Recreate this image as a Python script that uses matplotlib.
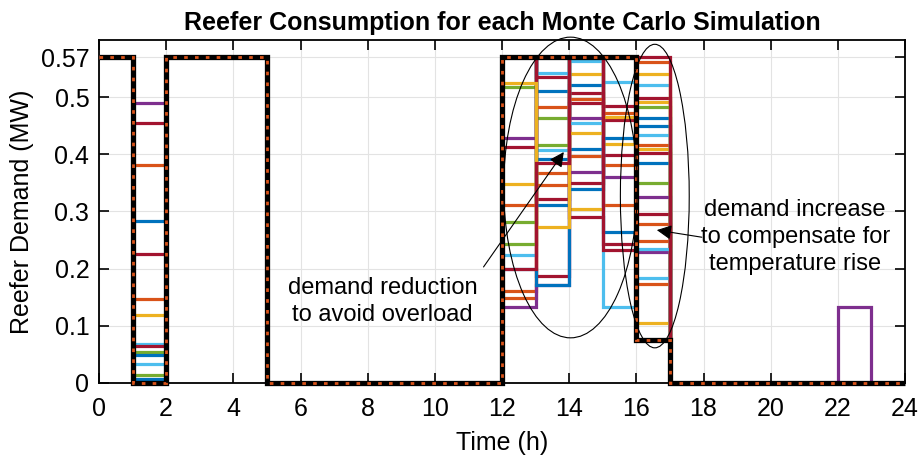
import numpy as np
import matplotlib
matplotlib.use("Agg")
import matplotlib.pyplot as plt
from matplotlib.patches import Ellipse

plt.rcParams['font.family'] = ['Liberation Sans', 'DejaVu Sans']

# baseline demand per hour (MW), hours 0..23
baseline = [0.57, 0, 0.57, 0.57, 0.57, 0, 0, 0, 0, 0, 0, 0,
            0.57, 0.57, 0.57, 0.57, 0.076, 0, 0, 0, 0, 0, 0, 0]

# Monte Carlo runs: value of each run in the hours that differ from baseline
demand_h01 = [0.283, 0.382, 0.119, 0.49, 0.055, 0.069, 0.455,
              0.049, 0.147, 0, 0, 0.014, 0.033, 0.225,
              0.007, 0, 0, 0, 0, 0, 0.065,
              0, 0, 0, 0, 0, 0, 0,
              0, 0, 0, 0, 0, 0, 0]
demand_h12 = [0.57, 0.161, 0.348, 0.428, 0.517, 0.224, 0.57,
              0.57, 0.149, 0.57, 0.57, 0.281, 0.57, 0.57,
              0.57, 0.57, 0.57, 0.57, 0.243, 0.57, 0.412,
              0.57, 0.57, 0.57, 0.133, 0.57, 0.57, 0.57,
              0.2, 0.312, 0.524, 0.57, 0.57, 0.57, 0.199]
demand_h13 = [0.51, 0.367, 0.57, 0.57, 0.464, 0.407, 0.322,
              0.391, 0.347, 0.57, 0.57, 0.417, 0.542, 0.188,
              0.311, 0.57, 0.57, 0.57, 0.57, 0.57, 0.57,
              0.57, 0.57, 0.57, 0.172, 0.57, 0.57, 0.536,
              0.172, 0.483, 0.273, 0.57, 0.57, 0.57, 0.384]
demand_h14 = [0.521, 0.397, 0.541, 0.57, 0.57, 0.563, 0.508,
              0.41, 0.57, 0.305, 0.57, 0.57, 0.57, 0.489,
              0.57, 0.57, 0.57, 0.57, 0.57, 0.57, 0.349,
              0.57, 0.57, 0.57, 0.369, 0.57, 0.57, 0.29,
              0.34, 0.497, 0.438, 0.464, 0.57, 0.455, 0.57]
demand_h15 = [0.264, 0.382, 0.418, 0.57, 0.57, 0.527, 0.484,
              0.57, 0.311, 0.57, 0.57, 0.57, 0.57, 0.46,
              0.57, 0.57, 0.57, 0.57, 0.57, 0.57, 0.399,
              0.57, 0.57, 0.57, 0.57, 0.57, 0.57, 0.243,
              0.428, 0.473, 0.466, 0.361, 0.57, 0.133, 0.233]
demand_h16 = [0.45, 0.417, 0.491, 0.076, 0.349, 0.521, 0.499,
              0.384, 0.278, 0.41, 0.076, 0.076, 0.434, 0.403,
              0.076, 0.248, 0.105, 0.076, 0.076, 0.184, 0.295,
              0.076, 0.174, 0.076, 0.23, 0.076, 0.076, 0.076,
              0.464, 0.562, 0.541, 0.325, 0.482, 0.234, 0.57]
demand_h22 = [0] * 31 + [0.133] + [0] * 3

xticks = list(range(0, 25, 2))
yticks = [0, 0.1, 0.2, 0.3, 0.4, 0.5, 0.57]
ytick_labels = ['0', '0.1', '0.2', '0.3', '0.4', '0.5', '0.57']

matlab_colors = ['#0072BD', '#D95319', '#EDB120', '#7E2F8E',
                 '#77AC30', '#4DBEEE', '#A2142F']

edges = np.arange(25)

fig = plt.figure(figsize=(9.21, 4.62), dpi=100)
ax = fig.add_axes([99 / 921, 1 - 383 / 462, 806 / 921, 343 / 462])

for i in range(len(demand_h12)):
    run = list(baseline)
    run[1] = demand_h01[i]
    run[12] = demand_h12[i]
    run[13] = demand_h13[i]
    run[14] = demand_h14[i]
    run[15] = demand_h15[i]
    run[16] = demand_h16[i]
    run[22] = demand_h22[i]
    ax.stairs(run, edges, baseline=None, color=matlab_colors[i % 7],
              lw=2.3, zorder=2)

ax.stairs(baseline, edges, baseline=None, color='black', lw=3.8,
          zorder=3, clip_on=False)
ax.stairs(baseline, edges, baseline=None, color='#D95319', lw=2.0,
          linestyle=(0, (1.3, 2.6)), zorder=4, clip_on=False)

# annotations
ax.add_patch(Ellipse((14.04, 0.342), 3.98, 0.526, fill=False, ec='black',
                     lw=0.8, zorder=5, clip_on=False))
ax.add_patch(Ellipse((16.55, 0.327), 2.05, 0.531, fill=False, ec='black',
                     lw=0.8, zorder=5, clip_on=False))
ax.annotate('', xy=(13.84, 0.404), xytext=(11.45, 0.203),
            arrowprops=dict(arrowstyle='-|>', color='black', lw=0.8,
                            mutation_scale=22, shrinkA=0, shrinkB=0), zorder=6)
ax.annotate('', xy=(16.61, 0.2675), xytext=(17.95, 0.255),
            arrowprops=dict(arrowstyle='-|>', color='black', lw=0.8,
                            mutation_scale=22, shrinkA=0, shrinkB=0), zorder=6)
ax.text(8.45, 0.142, 'demand reduction\nto avoid overload', ha='center',
        va='center', fontsize=17, linespacing=1.3, zorder=6)
ax.text(20.73, 0.255, 'demand increase\nto compensate for\ntemperature rise',
        ha='center', va='center', fontsize=17, linespacing=1.3, zorder=6)

ax.set_xlim(0, 24)
ax.set_ylim(0, 0.6)
ax.set_xticks(xticks)
ax.set_yticks(yticks)
ax.set_yticklabels(ytick_labels)
ax.grid(True, color='#e3e3e3', lw=0.8)
ax.set_axisbelow(True)
ax.tick_params(direction='in', length=7, width=1.2, top=True, right=True,
               labelsize=18)
ax.tick_params(axis='x', pad=10)
ax.tick_params(axis='y', pad=7)
for s in ax.spines.values():
    s.set_linewidth(1.3)
    s.set_zorder(1)

ax.set_xlabel('Time (h)', fontsize=18, labelpad=7)
ax.set_ylabel('Reefer Demand (MW)', fontsize=18, labelpad=5)
ax.set_title('Reefer Consumption for each Monte Carlo Simulation',
             fontsize=18, fontweight='bold', pad=7)

fig.savefig('out.png', dpi=100)
